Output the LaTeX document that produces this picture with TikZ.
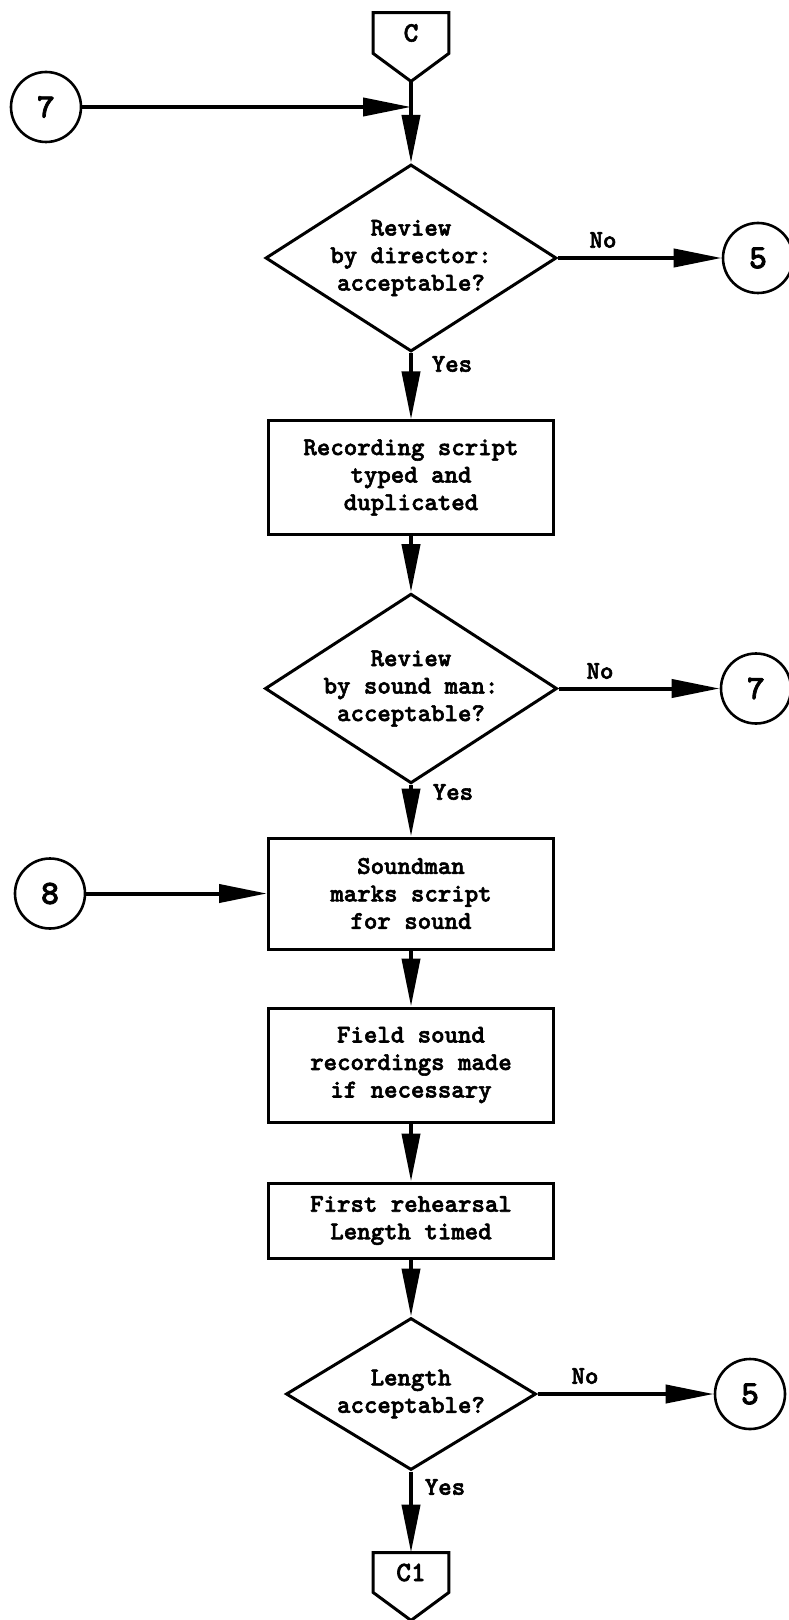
\documentclass[tikz,border=0pt]{standalone}
\usepackage{fontspec}
\usetikzlibrary{arrows.meta,shapes.geometric}
% heavy typewriter face for all labels
\newfontfamily\typebold[FakeBold=2.2]{lmmonolt10-bold.otf}
\begin{document}
\begin{tikzpicture}[x=0.5pt,y=-0.5pt,
  txt/.style={font=\typebold\fontsize{12.8}{13.75}\selectfont, align=center, inner sep=0pt},
  process/.style={txt, draw, line width=1.5pt, minimum width=142.5pt},
  decision/.style={txt, draw, diamond, line width=1.5pt},
  ref/.style={draw, circle, line width=1.3pt, minimum size=35pt, inner sep=0pt,
    font=\typebold\fontsize{17}{17}\selectfont},
  offpage/.style={minimum width=37.5pt, inner sep=0pt,
    font=\typebold\fontsize{14}{14}\selectfont},
  outline/.style={draw, line width=1.5pt, line join=miter},
  flow/.style={line width=2pt, -{Triangle[length=24pt,width=9pt]}},
  lbl/.style={txt}
]
\useasboundingbox (0,0) rectangle (788,1620);

% off-page connector C
\node[offpage, minimum height=20pt] (cA) at (411,33) {\raisebox{-3pt}{C}};
\draw[outline] (cA.north west) -- (cA.north east) -- (cA.south east)
  -- ([yshift=-14pt]cA.south) -- (cA.south west) -- cycle;
\coordinate (cAtip) at ([yshift=-14pt]cA.south);

% entry from 7
\node[ref] (r7a) at (46,107) {7};
\coordinate (j) at (cAtip |- r7a.east);

% decision 1
\node[decision, aspect=1.556, minimum width=145.5pt, minimum height=93.5pt]
  (d1) at (411,258) {Review\\by director:\\acceptable?};
\node[ref] (r5a) at (758,258) {5};
\node[lbl] (no1) at (603,240) {No};
\node[lbl] (yes1) at (452,364) {Yes};

% process 1
\node[process, minimum height=56.5pt] (b1) at (411,477.5)
  {Recording script\\typed and\\duplicated};

% decision 2
\node[decision, aspect=1.54, minimum width=144pt, minimum height=93.5pt]
  (d2) at (411,688.5) {Review\\by sound man:\\acceptable?};
\node[ref] (r7b) at (756,688.5) {7};
\node[lbl] (no2) at (600,671) {No};
\node[lbl] (yes2) at (453,792) {Yes};

% process 2 with entry from 8
\node[process, minimum height=55.5pt] (b2) at (411,893.5)
  {Soundman\\marks script\\for sound};
\node[ref] (r8) at (50,893.5) {8};

% process 3 and 4
\node[process, minimum height=57pt] (b3) at (411,1065)
  {Field sound\\recordings made\\if necessary};
\node[process, minimum height=37.5pt] (b4) at (411,1220.5)
  {First rehearsal\\Length timed};

% decision 3
\node[decision, aspect=1.645, minimum width=125pt, minimum height=76pt]
  (d3) at (411,1394) {Length\\acceptable?};
\node[ref] (r5b) at (750,1394) {5};
\node[lbl] (no3) at (585,1376) {No};
\node[lbl] (yes3) at (445,1487) {Yes};

% off-page connector C1
\node[offpage, minimum height=19.5pt] (cB) at (411,1572.5) {\raisebox{-3pt}{C1}};
\draw[outline] (cB.north west) -- (cB.north east) -- (cB.south east)
  -- ([yshift=-14pt]cB.south) -- (cB.south west) -- cycle;

% connectors
\draw[flow] (cAtip) -- (d1.north);
\draw[flow] (r7a.east) -- (j);
\draw[flow] (d1.east) -- (r5a.west);
\draw[flow] (d1.south) -- (b1.north);
\draw[flow] (b1.south) -- (d2.north);
\draw[flow] (d2.east) -- (r7b.west);
\draw[flow] (d2.south) -- (b2.north);
\draw[flow] (r8.east) -- (b2.west);
\draw[flow] (b2.south) -- (b3.north);
\draw[flow] (b3.south) -- (b4.north);
\draw[flow] (b4.south) -- (d3.north);
\draw[flow] (d3.east) -- (r5b.west);
\draw[flow] (d3.south) -- (cB.north);
\end{tikzpicture}
\end{document}
